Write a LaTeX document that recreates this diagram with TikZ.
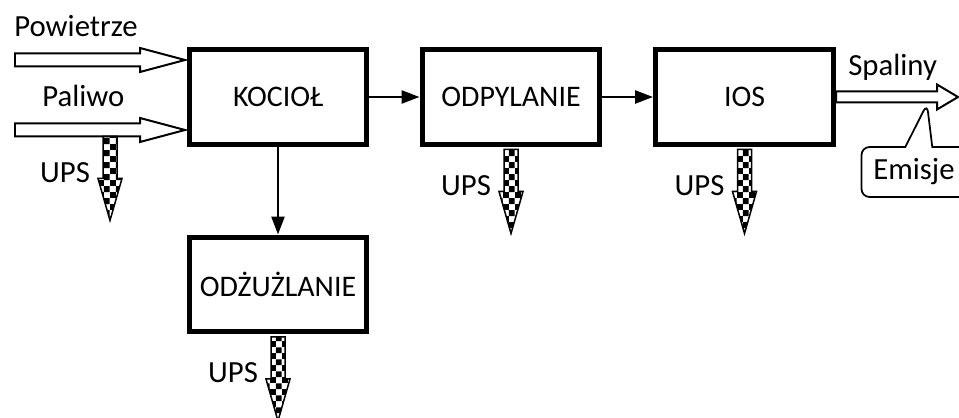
\documentclass[tikz,border=0pt]{standalone}
\usepackage{fontspec}
\setmainfont{Carlito}
\usetikzlibrary{arrows.meta,calc,shapes.callouts,patterns.meta}

\tikzdeclarepattern{
  name=upschecks,
  type=uncolored,
  bounding box={(0pt,0pt) and (7pt,7pt)},
  tile size={(7pt,7pt)},
  code={
    \pgfpathrectangle{\pgfpointorigin}{\pgfqpoint{3.5pt}{3.5pt}}
    \pgfpathrectangle{\pgfqpoint{3.5pt}{3.5pt}}{\pgfqpoint{3.5pt}{3.5pt}}
    \pgfusepath{fill}
  }
}

\begin{document}
\begin{tikzpicture}[x=0.02cm, y=-0.02cm,
    every node/.style={font=\fontsize{17.5}{20}\selectfont, inner sep=0pt},
    unit/.style={rectangle, draw, line width=0.1cm, fill=white,
        minimum width=3.56cm, minimum height=1.9cm, align=center,
        font=\fontsize{17}{20}\selectfont},
    flow/.style={-{Triangle[length=0.36cm, width=0.26cm]}, line width=0.05cm},
    stream/.style={draw, line width=0.04cm, fill=white, line join=miter},
    waste/.style={draw, line width=0.03cm, pattern=upschecks},
]
\useasboundingbox (0,0) rectangle (959,418);

% Process units
\node[unit] (kociol) at (278,97) {KOCIOŁ};
\node[unit] (odpylanie) at (511,97) {ODPYLANIE};
\node[unit] (ios) at (744.5,97) {IOS};
\node[unit] (odzuzlanie) at (278,284.5) {ODŻUŻLANIE};

% Main flow
\draw[flow] (kociol) -- (odpylanie);
\draw[flow] (odpylanie) -- (ios);
\draw[flow] (kociol.south) -- (odzuzlanie.north);

% Inputs and flue gas (hollow arrows)
\coordinate (pow-tip) at (185,60);
\coordinate (pal-tip) at (185,130);
\coordinate (spa-tip) at (958,97);
\foreach \t/\len/\hd/\sw/\hw in {pow-tip/170/45/6.5/12, pal-tip/170/45/6.5/12, spa-tip/122/21/5.5/12.5}
  \draw[stream] ($(\t)+(-\len,-\sw)$) -- ($(\t)+(-\hd,-\sw)$) -- ($(\t)+(-\hd,-\hw)$)
    -- (\t) -- ($(\t)+(-\hd,\hw)$) -- ($(\t)+(-\hd,\sw)$) -- ($(\t)+(-\len,\sw)$) -- cycle;

\node[anchor=base west] (powietrze) at (14,37) {Powietrze};
\node[anchor=base west] (paliwo) at (42,107) {Paliwo};
\node[anchor=base west] (spaliny) at (848,76) {Spaliny};

% Solid wastes (UPS)
\coordinate (pal-ups) at ($(pal-tip)+(-75,6.5)$);
\coordinate (odp-ups) at ($(odpylanie.south)+(0,2.5)$);
\coordinate (ios-ups) at ($(ios.south)+(0,2.5)$);
\coordinate (odz-ups) at ($(odzuzlanie.south)+(0,2.5)$);
\foreach \s in {pal-ups, odp-ups, ios-ups, odz-ups} {
  \draw[waste] ($(\s)+(-7,0)$) -- ($(\s)+(-7,42)$) -- ($(\s)+(-12,42)$) -- ($(\s)+(0,84)$)
    -- ($(\s)+(12,42)$) -- ($(\s)+(7,42)$) -- ($(\s)+(7,0)$) -- cycle;
  \node[anchor=base] (\s-label) at ($(\s)+(-45,46)$) {UPS};
}

% Emissions callout
\coordinate (emi-tip) at (927,104);
\node[rectangle callout, draw, line width=0.035cm, rounded corners=0.16cm,
    minimum width=2.1cm, minimum height=1cm,
    callout absolute pointer={(emi-tip)}, callout pointer width=0.54cm] (emisje) at (914,172) {Emisje};

\end{tikzpicture}
\end{document}
